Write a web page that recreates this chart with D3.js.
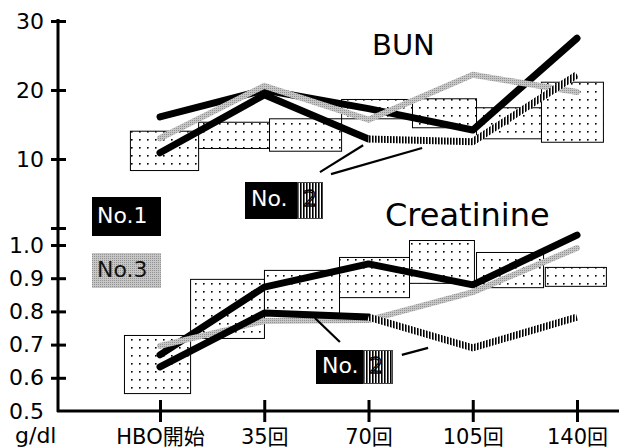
<!DOCTYPE html>
<html><head><meta charset="utf-8">
<script src="https://cdn.jsdelivr.net/npm/d3@7"></script>
<style>body{margin:0;background:#fff}svg{display:block}</style>
</head><body>
<svg id="c" width="619" height="448"></svg>
<script>
// ---- data ----
const categories = ["HBO開始", "35回", "70回", "105回", "140回"];
const sessions = [0, 35, 70, 105, 140];
const bunTicks = [0, 10, 20, 30];
const creTicks = [0.5, 0.6, 0.7, 0.8, 0.9, 1.0];
const creTickLabels = ["0.5", "0.6", "0.7", "0.8", "0.9", "1.0"];

const bunNo1 = [16.1, 20.0, 17.3, 14.2, 27.5];
const bunNo2 = [10.9, 19.3, 12.9, 12.5, 22.2];
const bunNo3 = [13.0, 20.6, 15.7, 22.2, 19.7];
const creNo1 = [0.669, 0.873, 0.943, 0.880, 1.030];
const creNo2 = [0.633, 0.795, 0.783, 0.690, 0.783];
const creNo3 = [0.696, 0.771, 0.774, 0.858, 0.991];
const no2HatchFrom = 2; // No.2 drawn hatched from 70回 onward

const bunBoxStart = [-10.1, 12.8, 36.6, 60.8, 84.6, 106.1, 127.9];
const bunBoxEnd   = [12.8, 36.6, 60.8, 84.6, 106.1, 127.9, 148.7];
const bunBoxLow   = [8.4, 11.6, 11.2, 15.9, 14.6, 13.0, 12.5];
const bunBoxHigh  = [14.1, 15.4, 15.9, 18.7, 18.8, 17.5, 21.2];

const creBoxStart = [-12.1, 10.1, 34.9, 60.1, 83.6, 106.1, 129.2];
const creBoxEnd   = [10.1, 34.9, 60.1, 83.6, 105.4, 128.6, 149.7];
const creBoxLow   = [0.554, 0.720, 0.795, 0.843, 0.886, 0.873, 0.877];
const creBoxHigh  = [0.729, 0.898, 0.925, 0.964, 1.015, 0.979, 0.934];

// pointer lines for No.2 labels [s1, v1, s2, v2]
const bunPointers = [[53.7, 8.1, 68.2, 12.0], [57.4, 7.8, 88.0, 11.6]];
const crePointers = [[52.0, 0.780, 60.4, 0.708], [81.2, 0.669, 90.0, 0.690]];

// ---- scales ----
const svg = d3.select("#c");
const x = d3.scaleLinear().domain([0, 140]).range([160, 577]);
const yBun = d3.scaleLinear().domain([0, 30]).range([228, 21]);
const yCre = d3.scaleLinear().domain([0.5, 1.0]).range([411, 245]);
const AX = 58, AY = 411;
const FONT = "'DejaVu Sans', 'Noto Sans CJK JP', sans-serif";

// ---- patterns ----
const defs = svg.append("defs");
const pd = defs.append("pattern").attr("id", "dots").attr("patternUnits", "userSpaceOnUse")
  .attr("width", 8).attr("height", 8);
pd.append("rect").attr("width", 8).attr("height", 8).attr("fill", "#fff");
pd.append("rect").attr("x", 3).attr("y", 3).attr("width", 1.6).attr("height", 1.6).attr("fill", "#000");
const pv = defs.append("pattern").attr("id", "vstripe").attr("patternUnits", "userSpaceOnUse")
  .attr("width", 3).attr("height", 10);
pv.append("rect").attr("width", 3).attr("height", 10).attr("fill", "#fff");
pv.append("rect").attr("width", 1.6).attr("height", 10).attr("fill", "#000");
const pg = defs.append("pattern").attr("id", "grayTex").attr("patternUnits", "userSpaceOnUse")
  .attr("width", 2).attr("height", 2);
pg.append("rect").attr("width", 2).attr("height", 2).attr("fill", "#c6c6c6");
pg.append("rect").attr("width", 1).attr("height", 1).attr("fill", "#929292");

// ---- boxes ----
function boxes(start, end, low, high, y) {
  svg.append("g").selectAll("rect").data(start.map((s, i) => i)).join("rect")
    .attr("x", i => x(start[i]) + 0.5)
    .attr("width", i => x(end[i]) - x(start[i]))
    .attr("y", i => y(high[i]) + 0.5)
    .attr("height", i => y(low[i]) - y(high[i]))
    .attr("fill", "url(#dots)").attr("stroke", "#000").attr("stroke-width", 1);
}
boxes(bunBoxStart, bunBoxEnd, bunBoxLow, bunBoxHigh, yBun);
boxes(creBoxStart, creBoxEnd, creBoxLow, creBoxHigh, yCre);

// ---- lines ----
function series(vals, from, to) {
  return sessions.map((s, i) => ({ s, v: vals[i] })).slice(from, to);
}
function drawLine(pts, y, stroke, w, cap) {
  const line = d3.line().x(d => x(d.s)).y(d => y(d.v));
  svg.append("path").attr("d", line(pts)).attr("fill", "none")
    .attr("stroke", stroke).attr("stroke-width", w)
    .attr("stroke-linecap", cap).attr("stroke-linejoin", cap === "round" ? "round" : "miter");
}
[[bunNo1, bunNo2, bunNo3, yBun], [creNo1, creNo2, creNo3, yCre]].forEach(([n1, n2, n3, y]) => {
  drawLine(series(n1, 0, 5), y, "#000", 7, "round");
  drawLine(series(n3, 0, 5), y, "url(#grayTex)", 6, "round");
  drawLine(series(n2, 0, no2HatchFrom + 1), y, "#000", 7, "round");
  drawLine(series(n2, no2HatchFrom, 5), y, "url(#vstripe)", 7, "butt");
});

// pointer lines
[[bunPointers, yBun], [crePointers, yCre]].forEach(([ps, y]) => {
  svg.append("g").selectAll("line").data(ps).join("line")
    .attr("x1", d => x(d[0])).attr("y1", d => y(d[1]))
    .attr("x2", d => x(d[2])).attr("y2", d => y(d[3]))
    .attr("stroke", "#000").attr("stroke-width", 2.2);
});

// ---- axes ----
svg.append("line").attr("x1", AX).attr("x2", AX).attr("y1", 19).attr("y2", AY + 1)
  .attr("stroke", "#000").attr("stroke-width", 3);
svg.append("line").attr("x1", AX - 1).attr("x2", 619).attr("y1", AY).attr("y2", AY)
  .attr("stroke", "#000").attr("stroke-width", 3);

const gB = svg.append("g").attr("transform", `translate(${AX},0)`)
  .call(d3.axisLeft(yBun).tickValues(bunTicks).tickFormat(d => d === 0 ? "" : d)
    .tickSizeInner(7).tickSizeOuter(0).tickPadding(7));
const gC = svg.append("g").attr("transform", `translate(${AX},0)`)
  .call(d3.axisLeft(yCre).tickValues(creTicks).tickFormat((d, i) => creTickLabels[i])
    .tickSizeInner(7).tickSizeOuter(0).tickPadding(7));
[gB, gC].forEach(g => {
  g.select(".domain").remove();
  g.selectAll(".tick line").attr("x1", 8).attr("stroke", "#000").attr("stroke-width", 3);
  g.selectAll(".tick text").attr("font-family", FONT).attr("font-size", 22).attr("fill", "#000");
});
gC.selectAll(".tick").filter(d => d === 0.5).select("line").remove();

const gX = svg.append("g").attr("transform", `translate(0,${AY})`)
  .call(d3.axisBottom(x).tickValues(sessions).tickFormat((d, i) => categories[i])
    .tickSizeInner(11).tickSizeOuter(0).tickPadding(7));
gX.select(".domain").remove();
gX.selectAll(".tick line").attr("y1", -11).attr("stroke", "#000").attr("stroke-width", 3);
gX.selectAll(".tick text").attr("font-family", FONT).attr("font-size", 21).attr("fill", "#000");

svg.append("text").attr("x", 15).attr("y", 443).attr("font-family", FONT)
  .attr("font-size", 22).text("g/dl");

// ---- titles ----
svg.append("text").attr("x", 372).attr("y", 55).attr("font-family", FONT)
  .attr("font-size", 29).text("BUN");
svg.append("text").attr("x", 385).attr("y", 226).attr("font-family", FONT)
  .attr("font-size", 32).text("Creatinine");

// ---- legend labels ----
svg.append("rect").attr("x", 92).attr("y", 197).attr("width", 69).attr("height", 39).attr("fill", "#000");
svg.append("text").attr("x", 97).attr("y", 223).attr("font-family", FONT).attr("font-size", 22)
  .attr("fill", "#fff").text("No.1");
svg.append("rect").attr("x", 92).attr("y", 253).attr("width", 69).attr("height", 35).attr("fill", "url(#grayTex)");
svg.append("text").attr("x", 97).attr("y", 277).attr("font-family", FONT).attr("font-size", 22)
  .attr("fill", "#111").text("No.3");

function no2Label(x0, y0, h, blackW, totalW, base) {
  svg.append("rect").attr("x", x0 + blackW).attr("y", y0 + 0.5).attr("width", totalW - blackW - 0.5).attr("height", h - 1)
    .attr("fill", "url(#vstripe)").attr("stroke", "#444").attr("stroke-width", 1);
  svg.append("rect").attr("x", x0).attr("y", y0).attr("width", blackW).attr("height", h).attr("fill", "#000");
  svg.append("text").attr("x", x0 + 6).attr("y", base).attr("font-family", FONT).attr("font-size", 22)
    .attr("fill", "#fff").text("No.");
  svg.append("text").attr("x", x0 + blackW + 6).attr("y", base).attr("font-family", FONT).attr("font-size", 22)
    .attr("fill", "none").attr("stroke", "#000").attr("stroke-width", 1.3).text("2");
}
no2Label(245, 182, 37, 52, 78, 206);
no2Label(316, 350, 34, 47, 77, 373);
</script>
</body></html>
